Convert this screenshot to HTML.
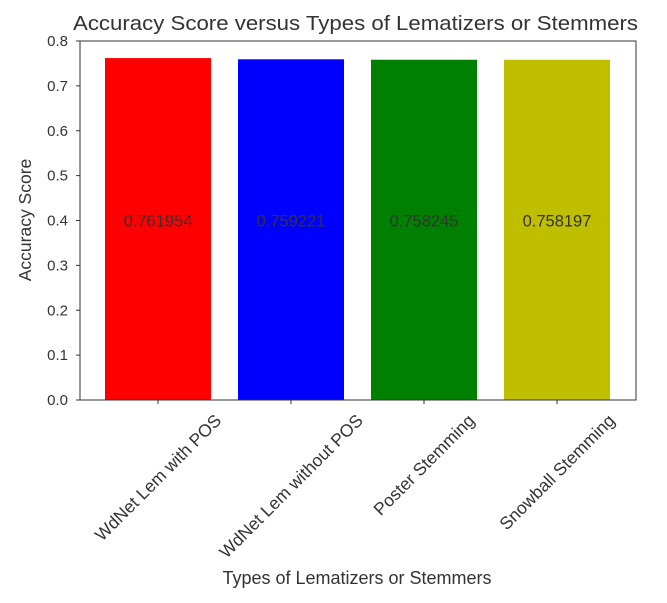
<!DOCTYPE html>
<html><head><meta charset="utf-8"><style>
body{margin:0;background:#fff}
svg text{font-family:"Liberation Sans","DejaVu Sans",sans-serif;fill:#333}
</style></head><body>
<svg id="chart" width="667" height="598"></svg>
<script>
const categories=["WdNet Lem with POS","WdNet Lem without POS","Poster Stemming","Snowball Stemming"];
const values=[0.761954,0.759221,0.758245,0.758197];
const labels=["0.761954","0.759221","0.758245","0.758197"];
const colors=["#ff0000","#0000ff","#008000","#bfbf00"];
const yTicks=[0.0,0.1,0.2,0.3,0.4,0.5,0.6,0.7,0.8];
const NS="http://www.w3.org/2000/svg";
const svg=document.getElementById('chart');
const L=80,R=636,T=41,B=400;
const y=v=>B-(v/0.8)*(B-T);
const x=i=>158+i*133;
const bw=106;
function mk(t,a,p){const e=document.createElementNS(NS,t);for(const k in a)e.setAttribute(k,a[k]);(p||svg).appendChild(e);return e;}
values.forEach((v,i)=>{
 const r=mk('rect',{x:x(i)-bw/2,y:y(v),width:bw,height:B-y(v),fill:colors[i]});
 
 
 const t=mk('text',{x:x(i),y:y(0.4)+6,'text-anchor':'middle','font-size':16.5});
 t.textContent=labels[i];
 
 
 mk('line',{x1:x(i),x2:x(i),y1:B,y2:B+4,stroke:'#333'});
 const c=mk('text',{'text-anchor':'middle','font-size':17.5});
 c.textContent=categories[i];
 
 
 const len=c.getComputedTextLength();
 const cx=x(i), cy=411+(len+18)*0.3536;
 c.setAttribute('transform',`translate(${cx},${cy}) rotate(-45) translate(0,6)`);
});
yTicks.forEach(v=>{
 mk('line',{x1:L-4,x2:L,y1:y(v),y2:y(v),stroke:'#333'});
 const t=mk('text',{x:L-12,y:y(v)+5,'text-anchor':'end','font-size':15});
 t.textContent=v.toFixed(1);
 
 
});
const f=mk('rect',{x:L,y:T,width:R-L,height:B-T,fill:'none',stroke:'#333','stroke-width':1});


const ti=mk('text',{x:(73+638)/2,y:30,'text-anchor':'middle','font-size':20.5,textLength:565,lengthAdjust:'spacingAndGlyphs'});
ti.textContent="Accuracy Score versus Types of Lematizers or Stemmers";


const yl=mk('text',{transform:`translate(31,220) rotate(-90)`,'text-anchor':'middle','font-size':17.5});
yl.textContent="Accuracy Score";


const xl=mk('text',{x:357,y:584,'text-anchor':'middle','font-size':18});
xl.textContent="Types of Lematizers or Stemmers";


</script>
</body></html>
